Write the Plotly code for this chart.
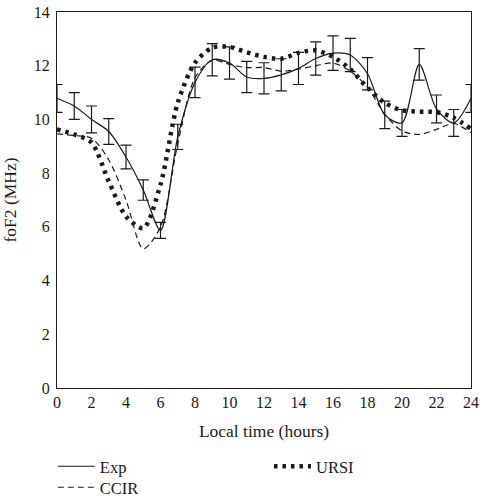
import plotly.graph_objects as go

hours = list(range(25))

# experimental mean and error bar half-range (MHz)
exp_mean = [10.78, 10.5, 10.0, 9.55, 8.6, 7.37, 5.87, 9.35, 11.38, 12.22, 12.1, 11.58,
            11.53, 11.66, 11.9, 12.27, 12.47, 12.4, 11.7, 10.17, 9.87, 12.05, 10.39, 9.87, 10.78]
exp_err = [0.52, 0.5, 0.5, 0.48, 0.44, 0.38, 0.3, 0.47, 0.57, 0.6, 0.6, 0.58,
           0.58, 0.6, 0.6, 0.62, 0.64, 0.62, 0.6, 0.51, 0.5, 0.59, 0.52, 0.5, 0.52]
ccir = [9.46, 9.4, 9.3, 8.5, 7.0, 5.18, 6.0, 9.1, 11.55, 12.2, 12.05, 11.93,
        11.93, 11.8, 11.87, 12.0, 12.1, 11.8, 11.2, 10.2, 9.57, 9.44, 9.63, 9.85, 9.5]
ursi = [9.63, 9.44, 9.14, 7.7, 6.39, 5.95, 7.57, 10.62, 12.11, 12.67, 12.7, 12.5,
        12.33, 12.26, 12.48, 12.57, 12.33, 11.87, 11.18, 10.62, 10.34, 10.29, 10.27, 10.06, 9.65]

ink = "#1a1a1a"
font = "Liberation Serif, Times New Roman, serif"

fig = go.Figure()
fig.add_trace(go.Scatter(x=hours, y=exp_mean, mode="lines", name="Exp", legend="legend",
                         line=dict(color=ink, width=1.2, shape="spline", smoothing=0.8)))
fig.add_trace(go.Scatter(x=hours, y=ccir, mode="lines", name="CCIR", legend="legend2",
                         line=dict(color=ink, width=1.2, dash="6px,4px", shape="spline", smoothing=0.8)))
fig.add_trace(go.Scatter(x=hours, y=ursi, mode="lines", name="URSI", legend="legend3",
                         line=dict(color=ink, width=4.5, dash="3.5px,5px", shape="spline", smoothing=0.8)))
# error bars drawn as their own trace so they stay out of the legend
fig.add_trace(go.Scatter(x=hours, y=exp_mean, mode="markers", showlegend=False,
                         marker=dict(size=1, color="rgba(0,0,0,0)"),
                         error_y=dict(type="data", array=exp_err, color=ink,
                                      thickness=1.2, width=5.5)))

axis_common = dict(showgrid=False, zeroline=False, showline=True, mirror=True,
                   linecolor=ink, linewidth=1.2, ticks="", color=ink, automargin=False,
                   ticklabeloverflow="allow",
                   tickfont=dict(family=font, size=16, color=ink))

# one legend per entry so each can sit where the reference has it
legend_common = dict(orientation="v", xanchor="left", yanchor="top", yref="container",
                     font=dict(family=font, size=16.5), bgcolor="rgba(0,0,0,0)",
                     itemwidth=37)

fig.update_layout(
    width=480, height=500,
    margin=dict(l=57, r=9, t=12, b=112),
    paper_bgcolor="white", plot_bgcolor="white",
    font=dict(family=font, size=17, color=ink),
    xaxis=dict(range=[0, 24], tickvals=list(range(0, 25, 2)),
               title=dict(text="Local time (hours)", font=dict(family=font, size=17.5), standoff=14),
               **axis_common),
    yaxis=dict(range=[0, 14], tickvals=list(range(0, 15, 2)), ticklabelstandoff=3,
               title=dict(text="foF2 (MHz)", font=dict(family=font, size=17.5), standoff=14),
               **axis_common),
    legend=dict(x=-0.01, y=0.102, **legend_common),
    legend2=dict(x=-0.01, y=0.06, **legend_common),
    legend3=dict(x=0.512, y=0.102, **legend_common),
)

# the page body has a default 8px margin; drop it so the figure fills the window
fig.write_html("out.html", config={"displayModeBar": False},
               post_script="document.body.style.margin='0px';")
